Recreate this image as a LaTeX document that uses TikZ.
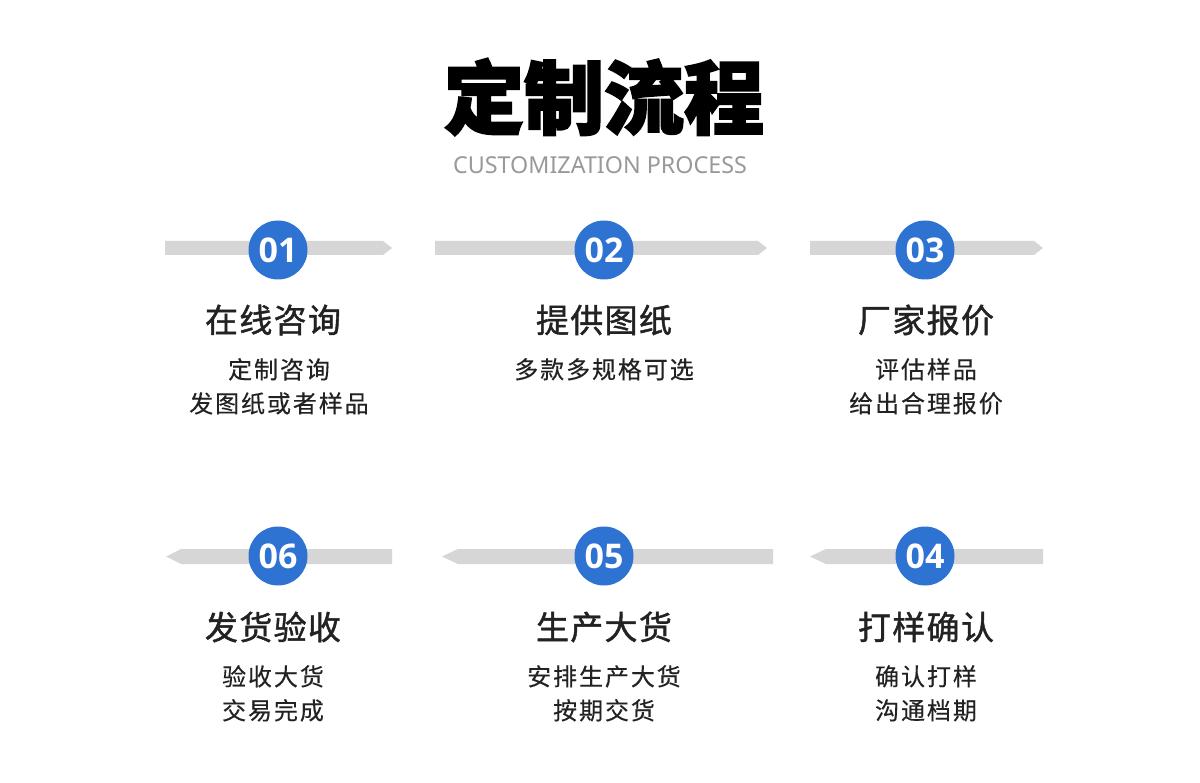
\documentclass[tikz,border=0pt]{standalone}
\usepackage{fontspec}
\setmainfont{Noto Sans}
\newfontfamily\cjk{Noto Sans CJK SC}
\newfontfamily\cjkhead[FakeBold=1.3,LetterSpace=4]{Noto Sans CJK SC}
\newfontfamily\cjksub[FakeBold=0.3,LetterSpace=8]{Noto Sans CJK SC}
\newfontfamily\cjktitle[BoldFeatures={FakeBold=2.5}]{Noto Sans CJK SC}
\newfontfamily\numfont{Open Sans}
\definecolor{stepblue}{HTML}{2E73D2}
\definecolor{bargray}{HTML}{D6D6D6}
\definecolor{subgray}{HTML}{999999}
\definecolor{txt}{HTML}{222222}
\tikzset{
  numcirc/.style={circle,fill=stepblue,minimum size=59pt,inner sep=0pt,text=white,font=\numfont\bfseries\fontsize{34}{34}\selectfont},
  headtxt/.style={text=txt,font=\cjkhead\fontsize{33}{33}\selectfont,inner sep=0pt},
  subtxt/.style={text=txt,align=center,font=\cjksub\fontsize{24}{34}\selectfont,inner sep=0pt},
  barfill/.style={fill=bargray}
}
\begin{document}
\begin{tikzpicture}[x=1pt,y=-1pt]
\useasboundingbox (0,0) rectangle (1200,783);
\fill[white] (0,0) rectangle (1200,783);
% title
\node[font=\cjktitle\bfseries\fontsize{80}{80}\selectfont,text=black,inner sep=0pt] (title) at (604,97) {定制流程};
\node[font=\fontsize{23.3}{23.3}\selectfont,text=subgray,inner sep=0pt] (subtitle) at (600,165) {CUSTOMIZATION PROCESS};
% top bars (pointing right)
\fill[barfill] (165,241) -- (383,241) -- (392,248) -- (383,255) -- (165,255) -- cycle;
\fill[barfill] (435,241) -- (758,241) -- (767,248) -- (758,255) -- (435,255) -- cycle;
\fill[barfill] (810,241) -- (1034,241) -- (1043,248) -- (1034,255) -- (810,255) -- cycle;
% bottom bars (pointing left)
\fill[barfill] (392,549) -- (181,549) -- (166,556.5) -- (181,564) -- (392,564) -- cycle;
\fill[barfill] (773,549) -- (458,549) -- (442,556.5) -- (458,564) -- (773,564) -- cycle;
\fill[barfill] (1043,549) -- (826,549) -- (810,556.5) -- (826,564) -- (1043,564) -- cycle;
% circles
\node[numcirc] (c1) at (278,250) {01};
\node[numcirc] (c2) at (604,250) {02};
\node[numcirc] (c3) at (925,250) {03};
\node[numcirc] (c6) at (278,556) {06};
\node[numcirc] (c5) at (604,556) {05};
\node[numcirc] (c4) at (925,556) {04};
% headings
\node[headtxt] (h1) at (273,320) {在线咨询};
\node[headtxt] (h2) at (604,320) {提供图纸};
\node[headtxt] (h3) at (926,320) {厂家报价};
\node[headtxt] (h6) at (273,627) {发货验收};
\node[headtxt] (h5) at (604,627) {生产大货};
\node[headtxt] (h4) at (926,627) {打样确认};
% sub texts
\node[subtxt,anchor=north] (s1) at (279,358) {定制咨询\\发图纸或者样品};
\node[subtxt,anchor=north] (s2) at (604,358) {多款多规格可选};
\node[subtxt,anchor=north] (s3) at (926,358) {评估样品\\给出合理报价};
\node[subtxt,anchor=north] (s6) at (273,665) {验收大货\\交易完成};
\node[subtxt,anchor=north] (s5) at (604,665) {安排生产大货\\按期交货};
\node[subtxt,anchor=north] (s4) at (926,665) {确认打样\\沟通档期};
\end{tikzpicture}
\end{document}
